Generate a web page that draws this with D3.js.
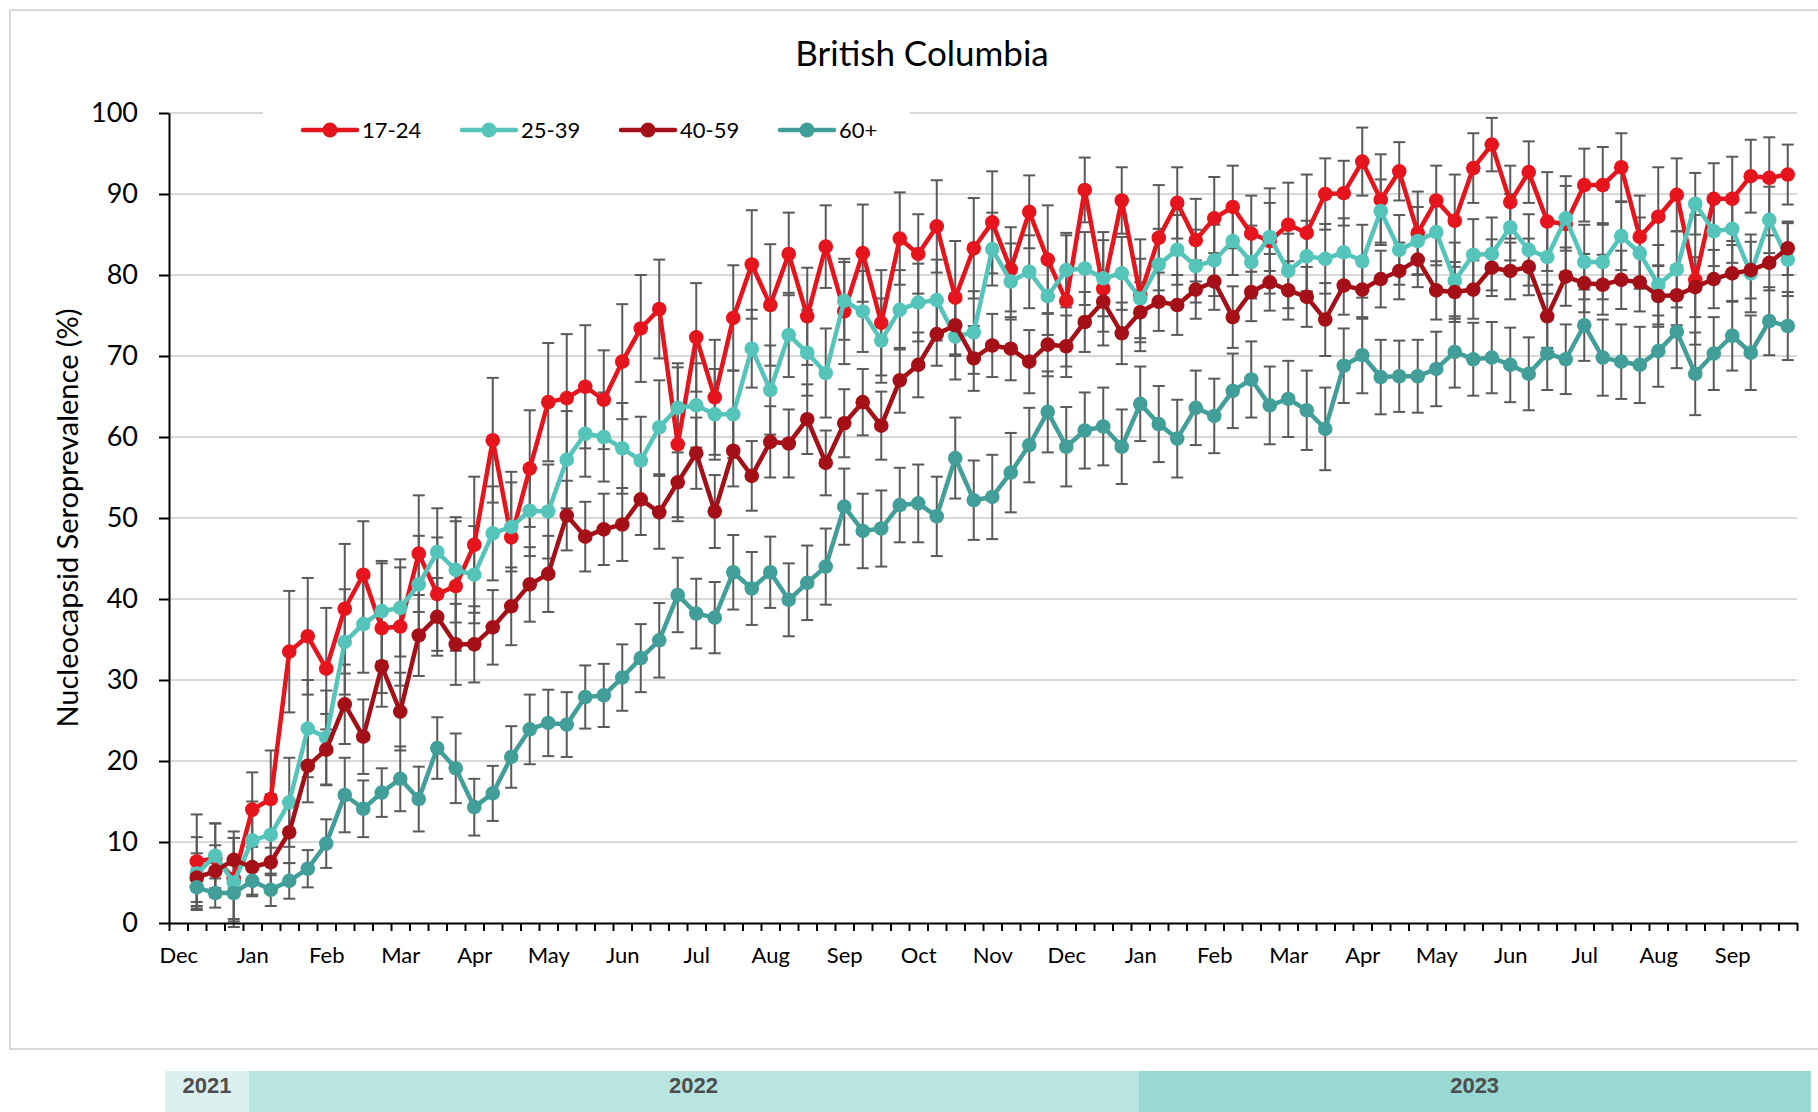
<!DOCTYPE html>
<html>
<head>
<meta charset="utf-8">
<script src="https://cdn.jsdelivr.net/npm/d3@7"></script>
<style>
  body { margin: 0; background: #fff; }
  svg { display: block; font-family: Lato, "Noto Sans", sans-serif; }
</style>
</head>
<body>
<svg id="chart" width="1818" height="1112"></svg>
<script>
// weekly categories: index 0..87, data from index 1
var nCats = 88;
var months = ["Dec","Jan","Feb","Mar","Apr","May","Jun","Jul","Aug","Sep","Oct","Nov",
              "Dec","Jan","Feb","Mar","Apr","May","Jun","Jul","Aug","Sep"];
var yTicks = [0,10,20,30,40,50,60,70,80,90,100];
var seriesNames = ["17-24","25-39","40-59","60+"];
var seriesColors = ["#e5141d","#55c4ba","#a50f17","#429e98"];
var years = ["2021","2022","2023"];
var yearStart = [-0.2, 4.3, 52.4];
var yearEnd = [4.3, 52.4, 88.75];
var yearColors = ["#dcf1ef","#b9e5e1","#98d9d3"];

var v1724 = [7.6,8.0,5.5,14.0,15.3,33.5,35.4,31.4,38.8,43.0,36.4,36.6,45.6,40.6,41.6,46.7,59.6,47.6,56.1,64.3,64.8,66.2,
  64.6,69.3,73.4,75.8,59.1,72.3,64.9,74.7,81.3,76.3,82.6,74.9,83.5,75.5,82.7,74.1,84.5,82.6,86.0,77.2,83.3,86.5,
  80.7,87.8,81.9,76.8,90.5,78.3,89.2,77.5,84.6,88.9,84.3,87.0,88.4,85.1,84.2,86.2,85.2,90.0,90.1,94.0,89.3,92.8,
  85.2,89.2,86.7,93.2,96.1,89.0,92.7,86.6,86.3,91.1,91.1,93.3,84.7,87.2,89.9,79.4,89.4,89.4,92.2,92.0,92.4];
var v2539 = [6.1,8.3,5.0,10.2,10.9,14.9,24.0,22.9,34.7,36.9,38.5,38.9,41.8,45.8,43.6,43.0,48.1,48.9,50.9,50.8,57.2,60.4,
  60.0,58.6,57.1,61.2,63.6,63.9,62.8,62.8,70.9,65.8,72.6,70.4,67.9,76.8,75.5,71.9,75.7,76.6,76.9,72.4,72.9,83.2,
  79.2,80.4,77.4,80.6,80.8,79.6,80.2,77.1,81.3,83.1,81.1,81.8,84.2,81.6,84.7,80.5,82.3,82.0,82.8,81.7,87.9,83.1,
  84.2,85.3,79.3,82.5,82.6,85.9,83.1,82.2,87.0,81.6,81.6,84.8,82.7,78.8,80.7,88.8,85.4,85.7,80.2,86.8,81.9];
var v4059 = [5.6,6.4,7.8,6.9,7.5,11.2,19.4,21.4,27.0,23.0,31.7,26.1,35.5,37.8,34.4,34.4,36.5,39.1,41.8,43.1,50.3,47.7,
  48.6,49.2,52.3,50.7,54.4,58.0,50.8,58.3,55.2,59.4,59.2,62.2,56.8,61.7,64.3,61.4,67.0,68.9,72.7,73.8,69.7,71.3,
  70.9,69.3,71.4,71.2,74.2,76.7,72.8,75.4,76.7,76.3,78.2,79.2,74.8,77.9,79.1,78.1,77.3,74.5,78.7,78.2,79.5,80.5,
  81.9,78.1,77.9,78.2,80.9,80.5,81.0,74.9,79.8,79.0,78.8,79.4,79.1,77.4,77.5,78.5,79.5,80.2,80.6,81.5,83.3];
var v60 = [4.4,3.7,3.7,5.2,4.1,5.2,6.7,9.8,15.8,14.1,16.1,17.8,15.3,21.6,19.1,14.3,16.0,20.5,23.9,24.7,24.5,27.9,
  28.1,30.3,32.7,34.9,40.5,38.2,37.7,43.3,41.3,43.3,39.9,42.0,44.0,51.4,48.4,48.7,51.6,51.8,50.2,57.4,52.2,52.6,
  55.6,59.0,63.1,58.8,60.8,61.3,58.8,64.1,61.6,59.8,63.6,62.6,65.7,67.1,63.9,64.7,63.3,61.0,68.8,70.1,67.4,67.5,
  67.5,68.4,70.5,69.6,69.8,68.9,67.8,70.3,69.6,73.8,69.8,69.3,68.9,70.6,73.0,67.8,70.3,72.5,70.4,74.3,73.7];

// 95% CI half-widths
var e1724 = [5.8,4.3,5.0,4.6,6.0,7.5,7.2,7.5,8.0,6.6,8.0,7.3,7.2,7.0,8.0,8.4,7.7,8.1,7.2,7.3,7.9,7.6,
  6.1,7.1,6.6,6.1,9.5,6.7,7.1,6.5,6.7,7.5,5.1,6.0,5.1,6.5,6.0,6.5,5.7,4.9,5.7,7.0,6.2,6.3,
  5.2,4.5,6.7,8.1,4.0,7.0,4.1,6.9,6.5,4.4,5.1,5.1,5.1,4.7,6.5,5.2,7.2,4.4,4.0,4.2,5.6,3.6,
  5.1,4.3,5.7,4.3,3.3,4.5,3.8,6.1,5.9,4.5,4.7,4.2,5.1,6.1,4.5,8.0,4.4,5.2,4.5,5.0,3.7];
var e2539 = [4.5,4.0,5.5,4.8,5.0,5.5,6.0,5.8,6.5,6.0,6.2,6.0,6.0,5.4,6.5,6.0,5.8,5.5,5.6,5.8,6.0,5.3,
  5.5,5.6,5.4,5.8,5.5,5.2,5.6,5.4,4.8,5.5,5.2,5.3,5.5,4.8,5.0,5.2,4.9,4.8,5.0,5.3,5.1,4.5,
  4.7,4.5,4.8,4.6,4.5,4.7,4.5,4.9,4.4,4.3,4.5,4.4,4.2,4.5,4.2,4.6,4.4,4.3,4.2,4.5,3.9,4.3,
  4.2,4.1,4.7,4.4,4.5,4.1,4.4,4.5,4.0,4.6,4.6,4.2,4.4,4.9,4.7,3.8,4.3,4.2,4.8,4.1,4.5];
var e4059 = [3.0,3.2,3.5,3.4,3.5,3.8,4.5,4.4,4.9,4.6,5.0,4.8,5.0,4.8,5.0,4.7,4.6,4.8,4.6,4.7,4.3,4.3,
  4.4,4.5,4.4,4.5,4.3,4.4,4.5,4.4,4.3,4.4,4.2,4.3,4.0,4.2,4.1,4.2,4.0,4.0,3.9,3.8,4.0,3.9,
  3.9,3.9,3.9,3.8,3.7,3.7,3.8,3.7,3.6,3.7,3.6,3.5,3.8,3.6,3.5,3.6,3.7,4.5,3.6,3.6,3.5,3.5,
  3.4,3.6,3.7,3.6,3.5,3.5,3.5,3.9,3.6,3.6,3.7,3.6,3.6,3.8,3.7,3.7,3.6,3.5,3.5,3.4,3.3];
var e60 = [2.3,1.8,3.5,1.9,2.0,2.2,2.3,3.0,4.6,3.5,3.0,4.0,4.0,3.8,4.3,3.5,3.4,3.8,4.3,4.1,4.0,3.9,
  3.9,4.1,4.2,4.6,4.6,4.3,4.4,4.6,4.5,4.4,4.5,4.6,4.7,4.7,4.6,4.7,4.6,4.8,4.9,5.0,4.9,5.2,
  4.9,4.6,5.0,4.9,4.7,4.8,4.6,4.6,4.7,4.8,4.6,4.6,4.6,4.7,4.8,4.7,4.9,5.1,4.6,4.7,4.6,4.4,
  4.5,4.6,4.4,4.5,4.4,4.6,4.5,4.5,4.3,4.4,4.7,4.6,4.7,4.4,4.5,5.1,4.5,4.3,4.6,4.2,4.2];

var values = [v1724, v2539, v4059, v60];
var errors = [e1724, e2539, e4059, e60];

var svg = d3.select("#chart");
var plotL = 169, plotR = 1797, plotT = 113, plotB = 923;

var x = d3.scaleLinear().domain([0, nCats]).range([plotL, plotR]);
var y = d3.scaleLinear().domain([0, 100]).range([plotB, plotT]);

// outer frame
svg.append("rect")
  .attr("x", 10).attr("y", 10).attr("width", 1830).attr("height", 1039)
  .attr("fill", "none").attr("stroke", "#d9d9d9").attr("stroke-width", 2);

// gridlines
svg.append("g").selectAll("line")
  .data(yTicks.filter(d => d > 0))
  .enter().append("line")
  .attr("x1", plotL).attr("x2", plotR)
  .attr("y1", d => y(d)).attr("y2", d => y(d))
  .attr("stroke", "#d9d9d9").attr("stroke-width", 2);

// title
svg.append("text")
  .attr("x", 922).attr("y", 66)
  .attr("text-anchor", "middle")
  .attr("font-size", 35)
  .attr("fill", "#000")
  .text("British Columbia");

// y axis title
svg.append("text")
  .attr("transform", "translate(78,518) rotate(-90)")
  .attr("text-anchor", "middle")
  .attr("font-size", 29)
  .text("Nucleocapsid Seroprevalence (%)");

// error bars (under the series)
var eg = svg.append("g");
values.forEach(function(vals, s){
  var pts = vals.map((v, i) => ({i: i + 1, v: v, e: errors[s][i]}));
  var g = eg.append("g").attr("stroke", "#5a5a5a").attr("stroke-width", 2);
  g.selectAll(".stem").data(pts).enter().append("line")
    .attr("x1", d => x(d.i + 0.5)).attr("x2", d => x(d.i + 0.5))
    .attr("y1", d => y(d.v + d.e)).attr("y2", d => y(d.v - d.e));
  g.selectAll(".capT").data(pts).enter().append("line")
    .attr("x1", d => x(d.i + 0.5) - 6).attr("x2", d => x(d.i + 0.5) + 6)
    .attr("y1", d => y(d.v + d.e)).attr("y2", d => y(d.v + d.e));
  g.selectAll(".capB").data(pts).enter().append("line")
    .attr("x1", d => x(d.i + 0.5) - 6).attr("x2", d => x(d.i + 0.5) + 6)
    .attr("y1", d => y(d.v - d.e)).attr("y2", d => y(d.v - d.e));
});

// series lines and markers
var line = d3.line().x(d => x(d.i + 0.5)).y(d => y(d.v));
values.forEach(function(vals, s){
  var pts = vals.map((v, i) => ({i: i + 1, v: v}));
  svg.append("path").datum(pts)
    .attr("d", line)
    .attr("fill", "none")
    .attr("stroke", seriesColors[s])
    .attr("stroke-width", 4.5)
    .attr("stroke-linejoin", "round");
  svg.append("g").selectAll("circle").data(pts).enter().append("circle")
    .attr("cx", d => x(d.i + 0.5)).attr("cy", d => y(d.v))
    .attr("r", 7.3)
    .attr("fill", seriesColors[s]);
});

// y axis
var yAxis = svg.append("g")
  .attr("transform", "translate(" + plotL + ",0)")
  .call(d3.axisLeft(y).tickValues(yTicks).tickSize(10).tickPadding(21).tickSizeOuter(0));
yAxis.select(".domain").attr("stroke", "#000").attr("stroke-width", 2);
yAxis.selectAll(".tick line").attr("stroke", "#000").attr("stroke-width", 2);
yAxis.selectAll("text").attr("font-size", 27).attr("font-family", "Lato").attr("fill", "#000");

// x axis: week ticks
var xAxis = svg.append("g")
  .attr("transform", "translate(0," + plotB + ")")
  .call(d3.axisBottom(x).tickValues(d3.range(nCats + 1)).tickSize(8).tickSizeOuter(0).tickFormat(""));
xAxis.select(".domain").attr("stroke", "#000").attr("stroke-width", 2);
xAxis.selectAll(".tick line").attr("stroke", "#000").attr("stroke-width", 2);

// x axis: month labels every 4 weeks
var monthPos = months.map((m, k) => k * 4 + 0.5);
var xLab = svg.append("g")
  .attr("transform", "translate(0," + plotB + ")")
  .call(d3.axisBottom(x).tickValues(monthPos).tickSize(0)
    .tickFormat((d, k) => months[k]).tickPadding(24));
xLab.select(".domain").remove();
xLab.selectAll("text").attr("font-size", 22).attr("font-family", "Lato").attr("fill", "#000");

// legend
var legend = svg.append("g");
legend.append("rect")
  .attr("x", 263).attr("y", 100).attr("width", 647).attr("height", 50)
  .attr("fill", "#fff");
seriesNames.forEach(function(n, s){
  var lx = 303 + s * 159;
  legend.append("line")
    .attr("x1", lx).attr("x2", lx + 54).attr("y1", 130).attr("y2", 130)
    .attr("stroke", seriesColors[s]).attr("stroke-width", 4.5).attr("stroke-linecap", "round");
  legend.append("circle")
    .attr("cx", lx + 27).attr("cy", 130).attr("r", 7.5)
    .attr("fill", seriesColors[s]);
  legend.append("text")
    .attr("x", lx + 59).attr("y", 138)
    .attr("font-size", 22)
    .text(n);
});

// year band
var yb = svg.append("g");
years.forEach(function(yr, k){
  yb.append("rect")
    .attr("x", x(yearStart[k])).attr("y", 1071)
    .attr("width", x(yearEnd[k]) - x(yearStart[k])).attr("height", 41)
    .attr("fill", yearColors[k]);
  yb.append("text")
    .attr("x", (x(yearStart[k]) + x(yearEnd[k])) / 2).attr("y", 1093)
    .attr("text-anchor", "middle")
    .attr("font-family", "Liberation Sans, Arial, sans-serif")
    .attr("font-weight", "bold")
    .attr("font-size", 22)
    .attr("fill", "#4d4d4d")
    .text(yr);
});
</script>
</body>
</html>
